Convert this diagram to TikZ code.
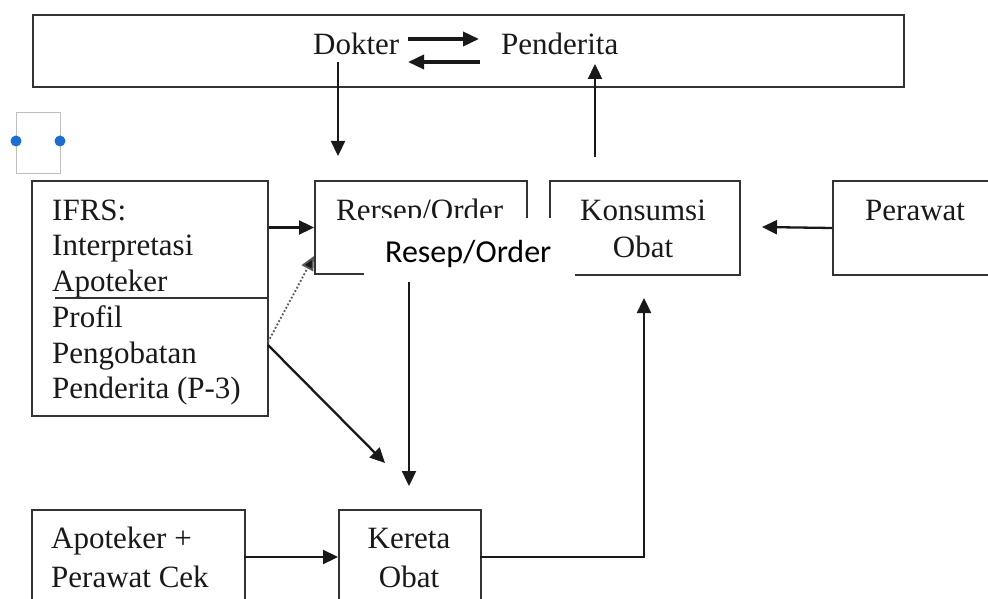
\documentclass[tikz,border=0pt]{standalone}
\usepackage{fontspec}
\setmainfont{Liberation Serif}
\newfontfamily\calib{Carlito}
\usetikzlibrary{arrows.meta,calc}
\definecolor{handleblue}{RGB}{30,110,210}
\begin{document}
\begin{tikzpicture}[x=1pt,y=-1pt,
  box/.style={draw=black!80,line width=2pt,rectangle,inner sep=0pt,anchor=north west},
  txt/.style={font=\fontsize{31}{36}\selectfont,text=black!90,inner sep=0pt},
  arr/.style={line width=2.3pt,draw=black!90,-{Triangle[length=15pt,width=14pt]}},
  thickarr/.style={line width=3.5pt,draw=black!90,-{Triangle[length=16pt,width=14pt]}},
  dotarr/.style={line width=1.8pt,draw=black!65,dotted,-{Triangle[length=14pt,width=13pt,fill=black!90]}}
  ]
\clip (0,0) rectangle (988,599);
\fill[white] (0,0) rectangle (988,599);

% boxes
\node[box,minimum width=871.5pt,minimum height=72pt] (top) at (31.5,14) {};
\node[box,minimum width=236pt,minimum height=235pt] (ifrs) at (31,180) {};
\node[box,minimum width=212pt,minimum height=93pt] (rersep) at (314,180) {};
\node[box,minimum width=190pt,minimum height=94pt] (kons) at (549,180) {};
\node[box,minimum width=200pt,minimum height=94pt] (perawat) at (832,180) {};
\node[box,minimum width=213pt,minimum height=120pt] (apot) at (31,509) {};
\node[box,minimum width=142pt,minimum height=120pt] (kereta) at (338,509) {};

% selection handle artefact
\draw[black!25,line width=1pt] (16,113) rectangle (60,173);
\fill[handleblue] (16,141) circle (5.5);
\fill[handleblue] (60,141) circle (5.5);

% texts
\node[txt,anchor=base west] (dokter) at (313,55) {Dokter};
\node[txt,anchor=base west] (penderita) at (501,55) {Penderita};
\node[txt,anchor=base west] (t1) at (52,220) {IFRS:};
\node[txt,anchor=base west] (t2) at (52,255) {Interpretasi};
\node[txt,anchor=base west] (t3) at (52,291) {Apoteker};
\node[txt,anchor=base west] (t4) at (52,327) {Profil};
\node[txt,anchor=base west] (t5) at (52,363) {Pengobatan};
\node[txt,anchor=base west] (t6) at (52,398) {Penderita (P-3)};
\node[txt,anchor=base west] (rtext) at (336,220) {Rersep/Order};
\node[txt,anchor=base] (k1) at (643,220) {Konsumsi};
\node[txt,anchor=base] (k2) at (643,257) {Obat};
\node[txt,anchor=base west] (ptext) at (865,220) {Perawat};
\node[txt,anchor=base west] (a1) at (51,548) {Apoteker +};
\node[txt,anchor=base west] (a2) at (51,587) {Perawat Cek};
\node[txt,anchor=base] (ke1) at (409,548) {Kereta};
\node[txt,anchor=base] (ke2) at (409,587) {Obat};

% divider in IFRS box
\draw[black!80,line width=2pt] (55,298) -- (ifrs.east |- 0,298);

% white overlay with label
\fill[white] (364,218) rectangle (575,282);
\node[font=\calib\fontsize{32}{38}\selectfont,anchor=base west,inner sep=0pt] (resep) at (385,262) {Resep/Order};

% coordinates for free ends
\coordinate (dd0) at (338,62);
\coordinate (dd1) at (338,156);
\coordinate (up0) at (595,157);
\coordinate (up1) at (595,64);
\coordinate (ra0) at (408,39);
\coordinate (ra1) at (479,39);
\coordinate (la0) at (480,62);
\coordinate (la1) at (408,62);
\coordinate (dot0) at (268,342);
\coordinate (dot1) at (314,256);
\coordinate (dg0) at (268,345);
\coordinate (dg1) at (385,463);
\coordinate (v0) at (409,282);
\coordinate (v1) at (409,486);
\coordinate (ak0) at (244,557);
\coordinate (ak1) at (338,557);
\coordinate (kk0) at (480,557);
\coordinate (kk1) at (644,298);
\coordinate (pk1) at (762,227);

% connectors
\draw[thickarr] (ra0) -- (ra1);
\draw[thickarr] (la0) -- (la1);
\draw[arr] (dd0) -- (dd1);
\draw[arr] (up0) -- (up1);
\draw[arr] (ifrs.east |- rersep.west) -- (rersep.west);
\draw[dotarr] (dot0) -- (dot1);
\draw[arr] (dg0) -- (dg1);
\draw[arr] (v0) -- (v1);
\draw[arr] (ak0) -- (ak1);
\draw[arr] (kk0) -| (kk1);
\draw[arr] (perawat.west) -- (pk1);
\end{tikzpicture}
\end{document}
